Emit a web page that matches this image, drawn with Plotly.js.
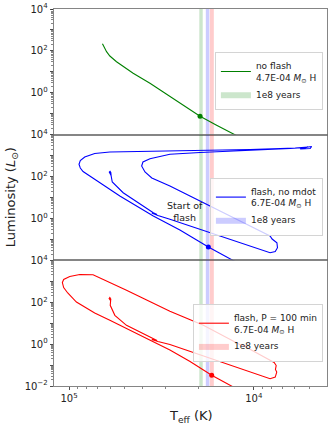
<!DOCTYPE html>
<html>
<head>
<meta charset="utf-8">
<script src="https://cdn.plot.ly/plotly-3.0.1.min.js"></script>
<style>
  html, body { margin: 0; padding: 0; background: #fff; }
  #hr { width: 331px; height: 429px; }
</style>
</head>
<body>
<div id="hr"></div>
<script>
// log10(Teff) and log10(L/Lsun)

// top panel: no flash
const noFlashLogT = [4.819, 4.812, 4.797, 4.779, 4.743, 4.698, 4.653, 4.562, 4.454,
  4.405, 4.394, 4.383, 4.291, 4.204, 4.111, 4.047];
const noFlashLogL = [2.343, 2.209, 1.961, 1.756, 1.483, 1.206, 0.929, 0.452, -0.188,
  -0.465, -0.513, -0.608, -1.124, -1.540, -1.984, -2.256];

// middle panel: flash, no mdot
const noMdotLogT = [4.771, 4.782, 4.778, 4.774, 4.772, 4.766, 4.707, 4.617, 4.544,
  4.524, 4.552, 4.519, 4.454, 4.291, 4.074, 3.912, 3.884, 3.872, 3.875, 3.901,
  3.912, 4.074, 4.291, 4.454, 4.552, 4.589, 4.607, 4.600, 4.562, 4.454, 4.291,
  4.020, 3.803, 3.722, 3.687, 3.695, 3.749, 3.706, 3.776, 4.020, 4.400, 4.779,
  4.861, 4.915, 4.939, 4.946, 4.939, 4.924, 4.851, 4.725, 4.544, 4.400, 4.246,
  4.111, 4.047];
const noMdotLogL = [2.026, 2.217, 2.251, 2.193, 2.026, 1.740, 1.229, 0.689, 0.274,
  0.188, 0.259, 0.140, -0.042, -0.529, -1.173, -1.637, -1.579, -1.398, -1.159, -0.982,
  -0.839, -0.123, 0.832, 1.549, 1.931, 2.217, 2.504, 2.695, 2.852, 3.063, 3.148,
  3.244, 3.340, 3.387, 3.435, 3.340, 3.316, 3.411, 3.363, 3.292, 3.244, 3.172,
  3.101, 2.934, 2.766, 2.585, 2.408, 2.241, 1.811, 1.071, 0.116, -0.553, -1.364,
  -2.033, -2.320];

// bottom panel: flash, P = 100 min
const p100LogT = [4.774, 4.783, 4.779, 4.774, 4.777, 4.752, 4.689, 4.544, 4.524,
  4.552, 4.519, 4.454, 4.183, 3.912, 3.884, 3.876, 3.883, 3.879, 3.890, 3.912,
  4.031, 4.058, 4.042, 4.074, 4.273, 4.454, 4.689, 4.850, 4.870, 4.942, 4.996,
  5.029, 5.036, 5.029, 5.007, 4.960, 4.861, 4.779, 4.599, 4.454, 4.345, 4.228,
  4.111, 4.047];
const p100LogL = [2.058, 2.177, 2.225, 2.153, 1.852, 1.375, 0.897, 0.243, 0.171,
  0.219, 0.124, -0.020, -0.855, -1.653, -1.572, -1.333, -1.213, -1.022, -0.879, -0.774,
  -0.211, -0.067, -0.082, -0.034, 0.897, 1.566, 2.569, 3.242, 3.314, 3.323, 3.228,
  3.085, 2.941, 2.702, 2.440, 2.010, 1.485, 1.136, 0.339, -0.282, -0.831, -1.490,
  -2.049, -2.335];

// 1e8 year points
const dotLogT = [4.291, 4.246, 4.228];
const dotLogL = [-1.124, -1.364, -1.490];

// 1e8 year bands (log Teff, hot edge / cool edge)
const bandHot = [4.295, 4.2598, 4.2381];
const bandCool = [4.2766, 4.2408, 4.2164];

const names = ['no flash<br>4.7E-04 <i>M</i><sub>⊙</sub> H',
  'flash, no mdot<br>6.7E-04 <i>M</i><sub>⊙</sub> H',
  'flash, P = 100 min<br>6.7E-04 <i>M</i><sub>⊙</sub> H'];
const lineColors = ['#008000', '#0000ff', '#ff0000'];
const bandColors = ['rgba(0,128,0,0.2)', 'rgba(0,0,255,0.2)', 'rgba(255,0,0,0.2)'];

const tracksT = [noFlashLogT, noMdotLogT, p100LogT];
const tracksL = [noFlashLogL, noMdotLogL, p100LogL];

const pow10 = (v) => Math.pow(10, v);
const FONT = 'DejaVu Sans, Liberation Sans, sans-serif';

const traces = [];
const axSuffix = ['', '2', '3'];
const legends = ['legend', 'legend2', 'legend3'];

for (let p = 0; p < 3; p++) {
  const xa = 'x' + axSuffix[p];
  const ya = 'y' + axSuffix[p];
  // bands behind the tracks
  for (let b = 0; b < 3; b++) {
    const t1 = pow10(bandHot[b]);
    const t2 = pow10(bandCool[b]);
    traces.push({
      x: [t1, t2, t2, t1, t1],
      y: [1e-3, 1e-3, 1e5, 1e5, 1e-3],
      xaxis: xa, yaxis: ya,
      type: 'scatter', mode: 'lines',
      fill: 'toself', fillcolor: bandColors[b],
      line: {width: 0, color: bandColors[b]},
      name: '1e8 years',
      showlegend: b === p,
      legend: legends[p],
      legendrank: 2,
      hoverinfo: 'skip',
    });
  }
  traces.push({
    x: tracksT[p].map(pow10),
    y: tracksL[p].map(pow10),
    xaxis: xa, yaxis: ya,
    type: 'scatter', mode: 'lines',
    line: {color: lineColors[p], width: 1.1},
    name: names[p],
    legend: legends[p],
    legendrank: 1,
  });
  traces.push({
    x: [pow10(dotLogT[p])],
    y: [pow10(dotLogL[p])],
    xaxis: xa, yaxis: ya,
    type: 'scatter', mode: 'markers',
    marker: {color: lineColors[p], size: 5},
    showlegend: false,
  });
}

// tick positions
const yMajor = [];
const yMinor = [];
for (let d = -2; d <= 4; d++) {
  yMajor.push(pow10(d));
  if (d < 4) for (let k = 2; k <= 9; k++) yMinor.push(k * pow10(d));
}
const xMinor = [];
for (let d = 3; d <= 5; d++) {
  for (let k = 2; k <= 9; k++) {
    const v = k * pow10(d);
    if (v > 4000 && v < 120000) xMinor.push(v);
  }
}
const supLabel = (d) => (d % 2 === 0 ? `10<sup>${d < 0 ? '−' + (-d) : d}</sup>` : ' ');

function yAxis(domain, anchor, withBottom) {
  const vals = withBottom ? yMajor : yMajor.slice(1);
  const texts = vals.map((v) => supLabel(Math.round(Math.log10(v))));
  return {
    type: 'log',
    range: [-2, 4],
    domain: domain,
    anchor: anchor,
    tickmode: 'array',
    tickvals: vals,
    ticktext: texts,
    ticks: 'outside', ticklen: 3.5, tickwidth: 0.8, tickcolor: '#222',
    minor: {tickmode: 'array', tickvals: yMinor, ticks: 'outside', ticklen: 2,
      tickwidth: 0.6, tickcolor: '#333', showgrid: false},
    showgrid: false, zeroline: false,
    showline: true, mirror: true, linecolor: '#666', linewidth: 0.8,
    tickfont: {size: 10, family: FONT, color: '#222'},
  };
}

function xAxis(anchor, labelled) {
  return {
    type: 'log',
    range: [5.0813, 3.604],
    anchor: anchor,
    domain: [0, 1],
    tickmode: 'array',
    tickvals: [1e4, 1e5],
    ticktext: ['10<sup>4</sup>', '10<sup>5</sup>'],
    showticklabels: labelled,
    ticks: labelled ? 'outside' : '',
    ticklen: 3.5, tickwidth: 0.8, tickcolor: '#222',
    minor: {tickmode: 'array', tickvals: xMinor, ticks: labelled ? 'outside' : '',
      ticklen: 2, tickwidth: 0.6, tickcolor: '#333', showgrid: false},
    showgrid: false, zeroline: false,
    showline: true, mirror: true, linecolor: '#666', linewidth: 0.8,
    tickfont: {size: 10, family: FONT, color: '#222'},
  };
}

function legendBox(yTop) {
  return {
    x: 0.985, y: yTop, xanchor: 'right', yanchor: 'top',
    bgcolor: 'rgba(255,255,255,0.8)',
    bordercolor: '#d4d4d4', borderwidth: 1,
    font: {size: 9, family: FONT, color: '#222'},
    itemwidth: 30,
    tracegroupgap: 2,
  };
}

const layout = {
  width: 331, height: 429,
  margin: {l: 54, r: 4, t: 9, b: 43},
  paper_bgcolor: '#fff', plot_bgcolor: 'rgba(0,0,0,0)',
  font: {family: FONT, color: '#222'},
  showlegend: true,
  xaxis: xAxis('y', false),
  xaxis2: xAxis('y2', false),
  xaxis3: xAxis('y3', true),
  yaxis: yAxis([2 / 3, 1], 'x', false),
  yaxis2: yAxis([1 / 3, 2 / 3], 'x2', false),
  yaxis3: yAxis([0, 1 / 3], 'x3', true),
  legend: legendBox(0.885),
  legend2: legendBox(0.552),
  legend3: legendBox(0.2175),
  annotations: [
    {
      text: 'Start of<br>flash', xref: 'x2', yref: 'y2', x: 4.370, y: 0.355,
      showarrow: false, font: {size: 9.5, family: FONT, color: '#222'},
    },
    {
      text: 'T<sub>eff</sub> (K)', xref: 'paper', yref: 'paper', x: 0.5, y: -0.082,
      xanchor: 'center', yanchor: 'middle', showarrow: false,
      font: {size: 13, family: FONT, color: '#222'},
    },
    {
      text: 'Luminosity (<i>L</i><sub>⊙</sub>)', xref: 'paper', yref: 'paper',
      x: -0.155, y: 0.5, textangle: -90, xanchor: 'center', yanchor: 'middle',
      showarrow: false, font: {size: 13, family: FONT, color: '#222'},
    },
  ],
};

Plotly.newPlot('hr', traces, layout, {staticPlot: true, displayModeBar: false});
</script>
</body>
</html>
